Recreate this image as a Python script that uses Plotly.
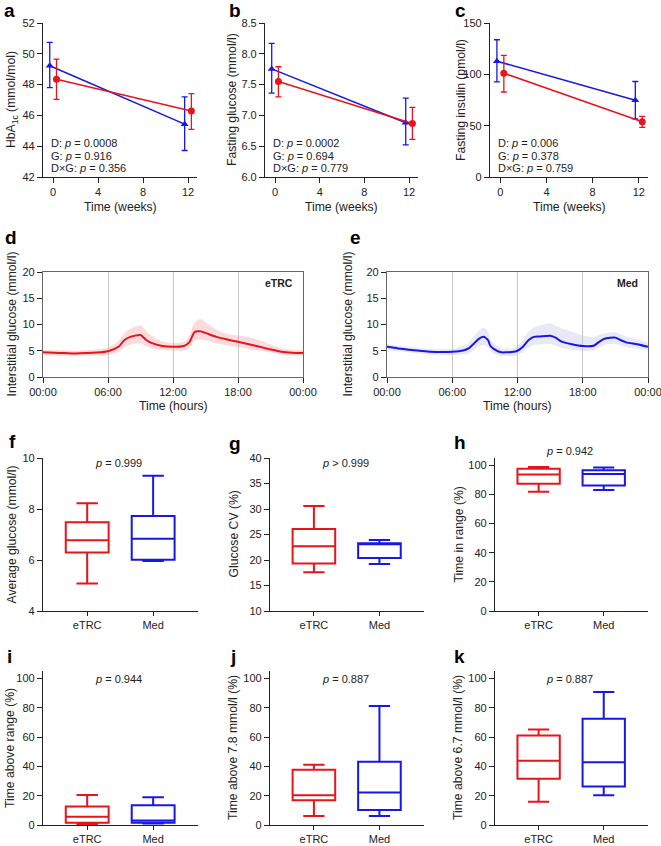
import plotly.graph_objects as go

W, H = 661, 846
RED = '#e8141c'
BLUE = '#1717e6'
FONT = 'Arial, Liberation Sans, sans-serif'
AX = '#222222'

# ---------------- data ----------------
weeks = [0, 12]
# panel a HbA1c
a_med_mean = [49.22, 45.43]; a_med_up = [50.74, 47.2]; a_med_lo = [47.8, 43.72]
a_trc_mean = [48.35, 46.28]; a_trc_up = [49.65, 47.41]; a_trc_lo = [47.04, 45.09]
# panel b fasting glucose
b_med_mean = [7.755, 6.88]; b_med_up = [8.17, 7.28]; b_med_lo = [7.36, 6.52]
b_trc_mean = [7.55, 6.87]; b_trc_up = [7.79, 7.13]; b_trc_lo = [7.30, 6.61]
# panel c fasting insulin
c_med_mean = [112.8, 74.7]; c_med_up = [133.7, 93.0]; c_med_lo = [92.6, 56.7]
c_trc_mean = [101.1, 53.8]; c_trc_up = [118.4, 59.0]; c_trc_lo = [82.8, 48.3]

a_p = ['D: <i>p</i> = 0.0008', 'G: <i>p</i> = 0.916', 'D×G: <i>p</i> = 0.356']
b_p = ['D: <i>p</i> = 0.0002', 'G: <i>p</i> = 0.694', 'D×G: <i>p</i> = 0.779']
c_p = ['D: <i>p</i> = 0.006', 'G: <i>p</i> = 0.378', 'D×G: <i>p</i> = 0.759']

# panel d (eTRC) 24 h CGM profile
d_hours = [0, 1, 2, 3, 4, 5, 6, 7, 7.5, 8, 9, 9.5, 10, 11, 12, 13, 13.5, 14, 14.5, 15, 16, 17, 18, 19, 20, 21, 22, 23, 24]
d_mean = [4.7, 4.6, 4.55, 4.5, 4.55, 4.65, 4.9, 5.8, 7.0, 7.6, 8.0, 7.1, 6.5, 5.9, 5.75, 5.9, 6.6, 8.6, 8.7, 8.4, 7.65, 7.15, 6.7, 6.25, 5.75, 5.25, 4.8, 4.6, 4.55]
d_low = [4.2, 4.1, 4.0, 4.0, 4.0, 4.1, 4.2, 4.8, 5.6, 6.1, 6.4, 5.9, 5.5, 5.2, 5.0, 5.1, 5.5, 7.0, 7.1, 7.0, 6.5, 6.0, 5.7, 5.3, 5.0, 4.7, 4.3, 4.1, 4.0]
d_high = [5.2, 5.1, 5.1, 5.0, 5.1, 5.3, 5.6, 6.9, 8.3, 9.1, 9.8, 8.8, 7.9, 6.8, 6.5, 6.7, 7.9, 10.4, 11.0, 10.5, 9.0, 8.2, 7.9, 7.6, 7.0, 6.2, 5.5, 5.2, 5.1]
# panel e (Med)
e_hours = [0, 1, 2, 3, 4, 5, 6, 7, 7.5, 8, 8.5, 8.9, 9.3, 9.5, 10, 10.5, 11, 11.5, 12, 12.5, 13, 13.5, 14, 15, 15.5, 16, 17, 18, 19, 19.5, 20, 21, 21.5, 22, 23, 24]
e_mean = [5.75, 5.45, 5.2, 5.0, 4.8, 4.75, 4.8, 5.05, 5.45, 6.4, 7.35, 7.65, 7.0, 5.95, 5.1, 4.7, 4.7, 4.75, 5.0, 5.75, 7.0, 7.65, 7.7, 7.85, 7.5, 6.8, 6.25, 5.9, 5.95, 6.7, 7.3, 7.5, 7.0, 6.6, 6.25, 5.75]
e_low = [5.2, 4.9, 4.7, 4.5, 4.3, 4.2, 4.2, 4.3, 4.5, 5.1, 5.8, 6.1, 5.6, 4.9, 4.3, 4.0, 4.0, 4.0, 4.2, 4.7, 5.6, 6.1, 6.2, 6.3, 6.0, 5.6, 5.2, 5.0, 5.0, 5.6, 6.1, 6.3, 6.0, 5.7, 5.4, 5.1]
e_high = [6.3, 6.0, 5.7, 5.5, 5.3, 5.3, 5.4, 5.9, 6.5, 7.8, 8.9, 9.4, 8.6, 7.2, 6.1, 5.5, 5.4, 5.5, 5.9, 7.0, 8.6, 9.4, 9.8, 10.2, 9.8, 9.3, 8.6, 7.9, 7.6, 8.0, 8.3, 8.5, 8.1, 7.7, 7.2, 6.5]
hour_ticks = [0, 6, 12, 18, 24]
hour_labels = ['00:00', '06:00', '12:00', '18:00', '00:00']

groups = ['eTRC', 'Med']
# box stats: [lowerfence, q1, median, q3, upperfence]
f_trc = [5.08, 6.29, 6.77, 7.48, 8.23]; f_med = [5.96, 6.01, 6.83, 7.73, 9.30]
g_trc = [17.6, 19.3, 22.7, 26.1, 30.6]; g_med = [19.2, 20.4, 23.2, 23.3, 23.9]
h_trc = [81.8, 87.4, 93.6, 97.7, 98.9]; h_med = [83.0, 86.2, 94.0, 96.6, 98.4]
i_trc = [0.5, 1.6, 5.7, 12.6, 20.5]; i_med = [1.1, 1.6, 3.0, 13.5, 19.0]
j_trc = [6.2, 16.9, 20.3, 37.7, 41.1]; j_med = [6.2, 10.3, 22.1, 43.2, 81.1]
k_trc = [15.8, 31.5, 43.8, 61.0, 65.1]; k_med = [20.3, 26.3, 42.7, 72.4, 90.6]
p_box = {'f': '<i>p</i> = 0.999', 'g': '<i>p</i> > 0.999', 'h': '<i>p</i> = 0.942',
         'i': '<i>p</i> = 0.944', 'j': '<i>p</i> = 0.887', 'k': '<i>p</i> = 0.887'}

# ---------------- layout helpers ----------------
def px(x):
    return x / W

def py(y):
    return 1 - y / H

fig = go.Figure()
layout = {}
annotations = []

def add_axes(n, xdom, ydom, xaxis_kw, yaxis_kw):
    base = dict(showline=True, linecolor=AX, linewidth=1.2, ticks='outside', ticklen=5,
                tickwidth=1.2, tickcolor=AX, showgrid=False, zeroline=False, automargin=False,
                ticklabeloverflow='allow',
                tickfont=dict(size=11, color=AX, family=FONT))
    xk = dict(base); xk.update(domain=[px(xdom[0]), px(xdom[1])], anchor='y%d' % n)
    xk.update(xaxis_kw)
    yk = dict(base); yk.update(domain=[py(ydom[1]), py(ydom[0])], anchor='x%d' % n)
    yk.update(yaxis_kw)
    layout['xaxis%d' % n] = xk
    layout['yaxis%d' % n] = yk

def label(letter, x, y):
    annotations.append(dict(text='<b>%s</b>' % letter, x=px(x), y=py(y), xref='paper', yref='paper',
                            xanchor='left', yanchor='middle', showarrow=False,
                            font=dict(size=19, color='black', family=FONT)))

def text(t, x, y, xanchor='left', size=11, bold=False, angle=0):
    annotations.append(dict(text=('<b>%s</b>' % t) if bold else t, x=px(x), y=py(y), xref='paper', yref='paper',
                            xanchor=xanchor, yanchor='middle', showarrow=False, textangle=angle,
                            font=dict(size=size, color=AX, family=FONT)))

def ytitle(t, x, ytop, ybot):
    text(t, x, (ytop + ybot) / 2, xanchor='center', size=12.2, angle=-90)

def xtitle(t, xl, xr, y):
    text(t, (xl + xr) / 2, y, xanchor='center', size=12.2)

# ---------------- top row ----------------
top = [
    (1, (43, 197), 'HbA<sub>1c</sub> (mmol/mol)', 12, [42, 52], list(range(42, 53, 2)), None,
     (a_med_mean, a_med_up, a_med_lo), (a_trc_mean, a_trc_up, a_trc_lo), a_p, 'a', 2),
    (2, (265, 418), 'Fasting glucose (mmol/l)', 232, [6.0, 8.5], [6.0, 6.5, 7.0, 7.5, 8.0, 8.5], '.1f',
     (b_med_mean, b_med_up, b_med_lo), (b_trc_mean, b_trc_up, b_trc_lo), b_p, 'b', 227),
    (3, (490, 648), 'Fasting insulin (pmol/l)', 461, [0, 150], [0, 50, 100, 150], None,
     (c_med_mean, c_med_up, c_med_lo), (c_trc_mean, c_trc_up, c_trc_lo), c_p, 'c', 453),
]
for n, xd, yt_text, ytx, yr, yt, yfmt, med, trc, ptexts, let, lx in top:
    add_axes(n, xd, (23, 177),
             dict(range=[-0.9, 12.8], tickvals=[0, 4, 8, 12]),
             dict(range=yr, tickvals=yt, tickformat=yfmt if yfmt else ''))
    for (mean, up, lo), col, sym, off in [(med, BLUE, 'triangle-up', -0.3), (trc, RED, 'circle', 0.3)]:
        fig.add_trace(go.Scatter(
            x=[w + off for w in weeks], y=mean, mode='lines+markers',
            line=dict(color=col, width=1.5), marker=dict(symbol=sym, size=7, color=col),
            error_y=dict(type='data', symmetric=False,
                         array=[u - m for u, m in zip(up, mean)],
                         arrayminus=[m - l for m, l in zip(mean, lo)],
                         color=col, thickness=1.3, width=3),
            xaxis='x%d' % n, yaxis='y%d' % n, showlegend=False))
    for k, t in enumerate(ptexts):
        text(t, xd[0] + 6, 143 + k * 12.6, size=11)
    ytitle(yt_text, ytx, 23, 177)
    xtitle('Time (weeks)', xd[0], xd[1], 207)
    label(let, lx, 11)

# ---------------- CGM profiles ----------------
cgm = [
    (4, (43, 303), 11, d_hours, d_mean, d_low, d_high, RED, 'rgba(250,150,155,0.35)', 'eTRC', 'd', 3),
    (5, (387, 648), 347, e_hours, e_mean, e_low, e_high, BLUE, 'rgba(190,190,230,0.35)', 'Med', 'e', 348),
]
for n, xd, ytx, hrs, mean, lo, hi, col, band, name, let, lx in cgm:
    add_axes(n, xd, (272, 377),
             dict(range=[0, 24], tickvals=hour_ticks, ticktext=hour_labels, showgrid=True,
                  gridcolor='#c8c8c8', gridwidth=1, mirror=True, linecolor='#666'),
             dict(range=[0, 20], tickvals=[0, 5, 10, 15, 20], mirror=True, linecolor='#666'))
    fig.add_trace(go.Scatter(x=hrs, y=hi, mode='lines', line=dict(width=0, shape='spline'),
                             xaxis='x%d' % n, yaxis='y%d' % n, showlegend=False, hoverinfo='skip'))
    fig.add_trace(go.Scatter(x=hrs, y=lo, mode='lines', line=dict(width=0, shape='spline'), fill='tonexty',
                             fillcolor=band, xaxis='x%d' % n, yaxis='y%d' % n, showlegend=False, hoverinfo='skip'))
    fig.add_trace(go.Scatter(x=hrs, y=mean, mode='lines', line=dict(color=col, width=2, shape='spline', smoothing=0.6),
                             xaxis='x%d' % n, yaxis='y%d' % n, showlegend=False))
    text(name, xd[1] - 8, 283, xanchor='right', size=10.5, bold=True)
    ytitle('Interstitial glucose (mmol/l)', ytx, 272, 377)
    xtitle('Time (hours)', xd[0], xd[1], 406)
    label(let, lx, 237)

# ---------------- box plots ----------------
boxes = [
    (6, (43, 198), (458, 611), 'Average glucose (mmol/l)', 11, [4, 10], [4, 6, 8, 10], f_trc, f_med, 'f', 7, 441, 463),
    (7, (270, 424), (458, 611), 'Glucose CV (%)', 233, [10, 40], list(range(10, 41, 5)), g_trc, g_med, 'g', 227, 443, 463),
    (8, (495, 648), (458, 611), 'Time in range (%)', 458, [0, 105], list(range(0, 101, 20)), h_trc, h_med, 'h', 452, 442, 451),
    (9, (43, 198), (671, 825), 'Time above range (%)', 10, [0, 105], list(range(0, 101, 20)), i_trc, i_med, 'i', 5, 656, 679),
    (10, (270, 424), (671, 825), 'Time above 7.8 mmol/l (%)', 233, [0, 105], list(range(0, 101, 20)), j_trc, j_med, 'j', 228, 656, 679),
    (11, (495, 648), (671, 825), 'Time above 6.7 mmol/l (%)', 458, [0, 105], list(range(0, 101, 20)), k_trc, k_med, 'k', 452, 656, 679),
]
for n, xd, yd, yt_text, ytx, yr, yt, trc, med, let, lx, ly, pyy in boxes:
    add_axes(n, xd, yd,
             dict(type='category', range=[-0.67, 1.68], categoryorder='array', categoryarray=groups, ticklen=4),
             dict(range=yr, tickvals=yt))
    for g, st, col in [(groups[0], trc, RED), (groups[1], med, BLUE)]:
        fig.add_trace(go.Box(x=[g], lowerfence=[st[0]], q1=[st[1]], median=[st[2]], q3=[st[3]],
                             upperfence=[st[4]], line=dict(color=col, width=2),
                             fillcolor='rgba(255,255,255,0)', width=0.65, whiskerwidth=0.5,
                             boxpoints=False, xaxis='x%d' % n, yaxis='y%d' % n, showlegend=False))
    text(p_box[let], (xd[0] + xd[1]) / 2 - 2, pyy, xanchor='center', size=11)
    ytitle(yt_text, ytx, yd[0], yd[1])
    label(let, lx, ly)

fig.update_layout(width=W, height=H, margin=dict(l=0, r=0, t=0, b=0, autoexpand=False), paper_bgcolor='white',
                  plot_bgcolor='white', font=dict(family=FONT, color=AX), annotations=annotations,
                  **layout)
fig.write_html('out.html', config={'displayModeBar': False},
               post_script="document.body.style.margin='0';document.body.style.overflow='hidden';")
